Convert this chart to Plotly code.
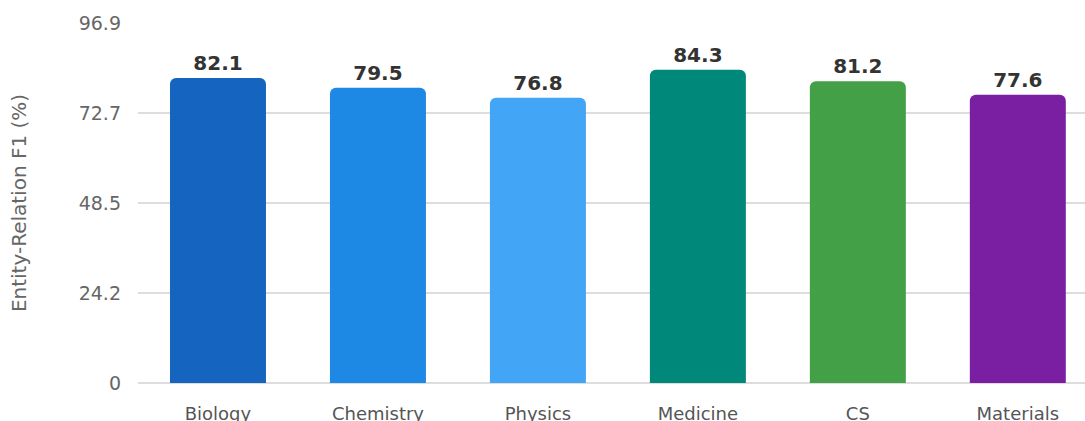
import plotly.graph_objects as go

categories = ["Biology", "Chemistry", "Physics", "Medicine", "CS", "Materials"]
values = [82.1, 79.5, 76.8, 84.3, 81.2, 77.6]
colors = ["#1565C0", "#1E88E5", "#42A5F5", "#00897B", "#43A047", "#7B1FA2"]
tick_vals = [0, 24.225, 48.45, 72.675, 96.9]
tick_text = ["0", "24.2", "48.5", "72.7", "96.9"]

fig = go.Figure(go.Bar(
    x=categories, y=values,
    marker=dict(color=colors, cornerradius=6, line=dict(width=0)),
    text=[f"{v:.1f}" for v in values],
    textposition="outside",
    textfont=dict(family="DejaVu Sans", size=20, color="#333333", weight="bold"),
    cliponaxis=False,
))

fig.update_layout(
    width=1085, height=421,
    margin=dict(l=138, r=0, t=23, b=38),
    paper_bgcolor="white", plot_bgcolor="white",
    bargap=0.4,
    showlegend=False,
    font=dict(family="DejaVu Sans", color="#666666"),
    xaxis=dict(
        range=[-0.5, 5.42],
        tickfont=dict(size=18, color="#555555"),
        showgrid=False, showline=False, ticks="",
        ticklabelstandoff=18,
        automargin=False,
    ),
    yaxis=dict(
        range=[0, 96.9],
        tickvals=tick_vals, ticktext=tick_text,
        tickfont=dict(size=19, color="#666666"),
        gridcolor="#dddddd", gridwidth=1.5,
        zeroline=True, zerolinecolor="#dddddd", zerolinewidth=1.5,
        showline=False, ticks="",
        ticklabelstandoff=16,
        automargin=False,
        title=dict(text="Entity-Relation F1 (%)", font=dict(size=20, color="#666666"), standoff=46),
    ),
)

fig.write_html("out.html")
